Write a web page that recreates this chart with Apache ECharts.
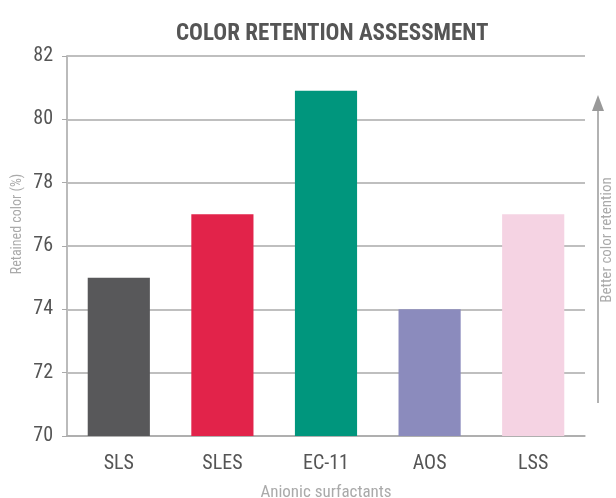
<!DOCTYPE html>
<html>
<head>
<meta charset="utf-8">
<style>
  html, body { margin: 0; padding: 0; background: #fff; }
  #chart { width: 616px; height: 498px; }
</style>
<script src="https://cdn.jsdelivr.net/npm/echarts@6/dist/echarts.min.js"></script>
</head>
<body>
<div id="chart"></div>
<script>
// ================= 数据 =================
const categories = ['SLS', 'SLES', 'EC-11', 'AOS', 'LSS']
const retained = [75, 77, 80.9, 74, 77]
const barColors = ['#58585a', '#e2234a', '#00967d', '#8b8bbd', '#f5d3e3']
const yTicks = { min: 70, max: 82, interval: 2 }

const FONT = '"Roboto Condensed", "Arial Narrow", "Liberation Sans Narrow", "DejaVu Sans Condensed", sans-serif'

const chart = echarts.init(document.getElementById('chart'))

// ================= 配置 =================
const option = {
  animation: false,
  title: {
    text: 'COLOR RETENTION ASSESSMENT',
    left: 171,
    top: 18,
    textStyle: { color: '#555', fontFamily: FONT, fontWeight: 'bold', fontSize: 23 }
  },
  grid: { left: 67, right: 31, top: 56, bottom: 62, outerBoundsMode: 'none' },
  xAxis: {
    type: 'category',
    data: categories,
    name: 'Anionic surfactants',
    nameLocation: 'middle',
    nameGap: 48,
    nameTextStyle: { color: '#aaa', fontFamily: FONT, fontSize: 17 },
    axisLine: { lineStyle: { color: '#aaa', width: 1.5 } },
    axisTick: { length: 5, lineStyle: { color: '#aaa' } },
    axisLabel: { color: '#555', fontFamily: FONT, fontSize: 20, margin: 18 }
  },
  yAxis: {
    type: 'value',
    min: yTicks.min,
    max: yTicks.max,
    interval: yTicks.interval,
    axisLine: { show: true, lineStyle: { color: '#bbb', width: 2 } },
    axisTick: { show: true, length: 5, lineStyle: { color: '#aaa' } },
    axisLabel: { color: '#555', fontFamily: FONT, fontSize: 20, margin: 14 },
    splitLine: { lineStyle: { color: '#aaa', width: 1.5 } }
  },
  series: [{
    type: 'bar',
    barWidth: '60%',
    data: retained.map((v, i) => ({ value: v, itemStyle: { color: barColors[i] } }))
  }],
  graphic: [
    {
      type: 'text',
      x: 17, y: 224,
      rotation: Math.PI / 2,
      style: {
        text: 'Retained color (%)',
        fill: '#aaa', font: '14px ' + FONT,
        align: 'center', verticalAlign: 'middle'
      }
    },
    {
      type: 'line',
      shape: { x1: 598, y1: 403, x2: 598, y2: 108 },
      style: { stroke: '#999', lineWidth: 1.5 }
    },
    {
      type: 'polygon',
      shape: { points: [[598, 95], [592, 111], [604, 111]] },
      style: { fill: '#999' }
    },
    {
      type: 'text',
      x: 607, y: 240,
      rotation: Math.PI / 2,
      style: {
        text: 'Better color retention',
        fill: '#aaa', font: '15px ' + FONT,
        align: 'center', verticalAlign: 'middle'
      }
    }
  ]
}

chart.setOption(option, true)
</script>
</body>
</html>
